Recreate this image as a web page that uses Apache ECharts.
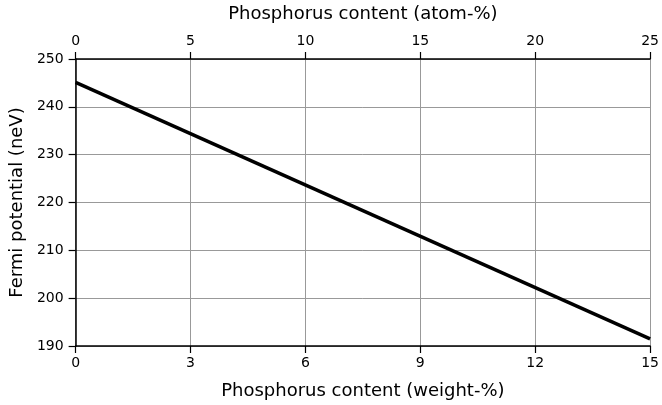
<!DOCTYPE html>
<html>
<head>
<meta charset="utf-8">
<script src="https://cdn.jsdelivr.net/npm/echarts@6/dist/echarts.min.js"></script>
<style>
  html, body { margin: 0; padding: 0; background: #fff; }
  #chart { width: 662px; height: 405px; }
</style>
</head>
<body>
<div id="chart"></div>
<script>
// phosphorus content in weight-% and the matching Fermi potential (neV)
const weightPct = [0, 15]
const fermiNeV = [245.1, 191.5]
const atomTicks = [0, 5, 10, 15, 20, 25]

const font = 'DejaVu Sans'
const axisLine = { show: true, lineStyle: { color: '#000', width: 1.5 } }
const tick = { show: true, length: 7, lineStyle: { color: '#000', width: 1.2 } }
const label = { color: '#000', fontFamily: font, fontSize: 14 }
const nameStyle = { color: '#000', fontFamily: font, fontSize: 18 }

const chart = echarts.init(document.getElementById('chart'))
chart.setOption({
  animation: false,
  grid: { left: 73, right: 10, top: 59, bottom: 59, containLabel: false },
  xAxis: [
    {
      type: 'value', position: 'bottom', min: 0, max: 15, interval: 3,
      name: 'Phosphorus content (weight-%)', nameLocation: 'middle', nameGap: 36,
      nameTextStyle: nameStyle,
      axisLine: axisLine, axisTick: tick, axisLabel: { ...label, margin: 10 },
      splitLine: { show: true, lineStyle: { color: '#999', width: 1 } }
    },
    {
      type: 'value', position: 'top', min: 0, max: 25, interval: 5,
      name: 'Phosphorus content (atom-%)', nameLocation: 'middle', nameGap: 36,
      nameTextStyle: nameStyle,
      axisLine: axisLine, axisTick: tick,
      axisLabel: { ...label, margin: 11, formatter: v => atomTicks.includes(v) ? String(v) : '' },
      splitLine: { show: false }
    }
  ],
  yAxis: {
    type: 'value', min: 190, max: 250, interval: 10,
    name: 'Fermi potential (neV)', nameLocation: 'middle', nameGap: 47,
    nameTextStyle: nameStyle,
    axisLine: axisLine, axisTick: tick, axisLabel: { ...label, margin: 12 },
    splitLine: { show: true, lineStyle: { color: '#999', width: 1 } }
  },
  series: [{
    type: 'line',
    xAxisIndex: 0,
    data: weightPct.map((w, i) => [w, fermiNeV[i]]),
    showSymbol: false,
    lineStyle: { color: '#000', width: 3.5 }
  }]
})
window.addEventListener('resize', () => chart.resize())
</script>
</body>
</html>
